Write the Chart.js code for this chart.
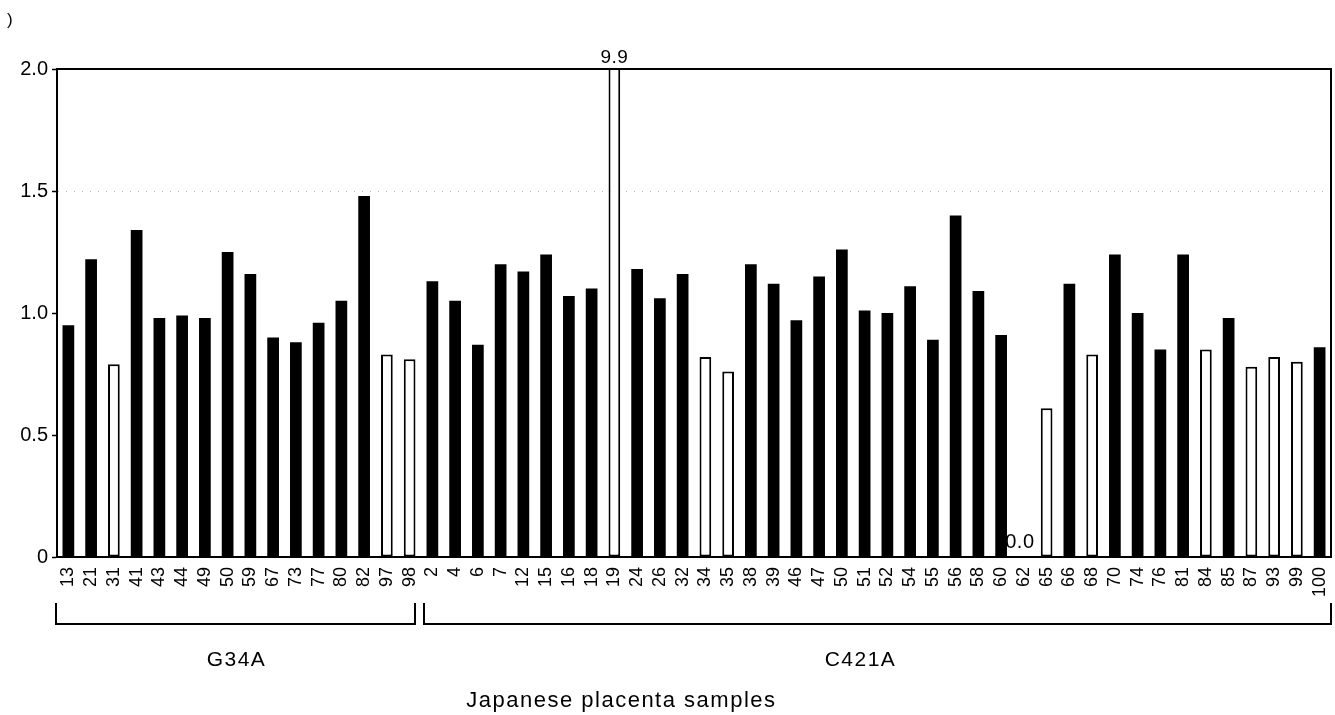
<!DOCTYPE html>
<html>
<head>
<meta charset="utf-8">
<script src="https://cdn.jsdelivr.net/npm/chart.js@4.4.1/dist/chart.umd.min.js"></script>
<style>
html,body{margin:0;padding:0;background:#fff}
canvas{display:block}
</style>
</head>
<body>
<canvas id="c" width="1335" height="715"></canvas>
<script>
// ---- data ----
const g34aSamples = ['13','21','31','41','43','44','49','50','59','67','73','77','80','82','97','98'];
const g34aValues  = [0.95,1.22,0.79,1.34,0.98,0.99,0.98,1.25,1.16,0.90,0.88,0.96,1.05,1.48,0.83,0.81];
const g34aOpen    = [0,0,1,0,0,0,0,0,0,0,0,0,0,0,1,1];

const c421aSamples = ['2','4','6','7','12','15','16','18','19','24','26','32','34','35','38','39','46','47','50','51',
                      '52','54','55','56','58','60','62','65','66','68','70','74','76','81','84','85','87','93','99','100'];
const c421aValues  = [1.13,1.05,0.87,1.20,1.17,1.24,1.07,1.10,9.9,1.18,1.06,1.16,0.82,0.76,1.20,1.12,0.97,1.15,1.26,1.01,
                      1.00,1.11,0.89,1.40,1.09,0.91,0.0,0.61,1.12,0.83,1.24,1.00,0.85,1.24,0.85,0.98,0.78,0.82,0.80,0.86];
const c421aOpen    = [0,0,0,0,0,0,0,0,1,0,0,0,1,1,0,0,0,0,0,0,
                      0,0,0,0,0,0,0,1,0,1,0,0,0,0,1,0,1,1,1,0];

const groupNames = ['G34A','C421A'];
const xAxisTitle = 'Japanese placenta samples';
const yTickLabels = ['0','0.5','1.0','1.5','2.0'];
const yMin = 0, yMax = 2.0, yStep = 0.5;

// ---- derived ----
const labels = g34aSamples.concat(c421aSamples);
const values = g34aValues.concat(c421aValues);
const openFlags = g34aOpen.concat(c421aOpen);

Chart.defaults.font.family = "'Liberation Sans', Arial, sans-serif";
Chart.defaults.color = '#000';

const FONT = "'Liberation Sans', Arial, sans-serif";

const decor = {
  id: 'decor',
  beforeDraw(chart) {
    const ctx = chart.ctx;
    ctx.save();
    ctx.fillStyle = '#fff';
    ctx.fillRect(0, 0, chart.width, chart.height);
    ctx.restore();
  },
  afterDatasetsDraw(chart) {
    const {ctx, chartArea: a} = chart;
    ctx.save();
    ctx.strokeStyle = '#000';
    ctx.lineWidth = 2;
    ctx.strokeRect(a.left, a.top, a.right - a.left, a.bottom - a.top);
    ctx.restore();
  },
  afterDraw(chart) {
    const {ctx, chartArea: a, scales: {x}} = chart;
    const meta = chart.getDatasetMeta(0);
    const step = x.getPixelForValue(1) - x.getPixelForValue(0);
    const split = x.getPixelForValue(g34aSamples.length) - step / 2;

    ctx.save();
    ctx.fillStyle = '#000';
    ctx.strokeStyle = '#000';

    // value labels for clipped / zero bars
    values.forEach((v, i) => {
      const el = meta.data[i];
      ctx.textAlign = 'center';
      ctx.textBaseline = 'alphabetic';
      if (v > yMax) {
        ctx.font = "19px " + FONT;
        try { ctx.letterSpacing = '0.5px'; } catch (e) {}
        ctx.fillText(v.toFixed(1), el.x, a.top - 6);
      } else if (v === 0) {
        ctx.font = "20px " + FONT;
        try { ctx.letterSpacing = '0.5px'; } catch (e) {}
        ctx.fillText(v.toFixed(1), el.x - 4, a.bottom - 9);
      }
    });

    // group brackets
    const yTop = a.bottom + 46, yBot = a.bottom + 67;
    const brackets = [[a.left - 1, split - 6], [split + 3, a.right]];
    ctx.lineWidth = 2;
    brackets.forEach(([x1, x2]) => {
      ctx.beginPath();
      ctx.moveTo(x1, yTop);
      ctx.lineTo(x1, yBot);
      ctx.lineTo(x2, yBot);
      ctx.lineTo(x2, yTop);
      ctx.stroke();
    });

    // group labels
    ctx.font = "21px " + FONT;
    ctx.textAlign = 'center';
    ctx.textBaseline = 'alphabetic';
    try { ctx.letterSpacing = '1.5px'; } catch (e) {}
    ctx.fillText(groupNames[0], (brackets[0][0] + brackets[0][1]) / 2 + 1, a.bottom + 109);
    ctx.fillText(groupNames[1], (brackets[1][0] + brackets[1][1]) / 2 - 17, a.bottom + 109);

    // axis title
    ctx.font = "22px " + FONT;
    try { ctx.letterSpacing = '1.5px'; } catch (e) {}
    ctx.fillText(xAxisTitle, a.left + (a.right - a.left) * 0.443, a.bottom + 150);

    // cropped panel letter remnant
    try { ctx.letterSpacing = '0px'; } catch (e) {}
    ctx.font = "17px " + FONT;
    ctx.textAlign = 'left';
    ctx.fillText(')', 7, 25);
    ctx.restore();
  }
};

new Chart(document.getElementById('c'), {
  type: 'bar',
  data: {
    labels: labels,
    datasets: [{
      data: values,
      backgroundColor: openFlags.map(f => f ? '#fff' : '#000'),
      borderColor: '#000',
      borderWidth: openFlags.map(f => f ? 2 : 0),
      borderSkipped: false,
      barPercentage: 0.515,
      categoryPercentage: 1.0
    }]
  },
  options: {
    responsive: false,
    animation: false,
    devicePixelRatio: 1,
    layout: { padding: { top: 69, right: 4, left: 0, bottom: 0 } },
    plugins: { legend: { display: false }, tooltip: { enabled: false }, title: { display: false } },
    scales: {
      x: {
        type: 'category',
        offset: true,
        grid: { display: false, drawTicks: false },
        border: { display: true, color: '#000', width: 2 },
        ticks: {
          autoSkip: false,
          maxRotation: 90,
          minRotation: 90,
          padding: 10,
          color: '#000',
          font: { size: 18 }
        },
        afterFit(s) { s.height = 158; s.paddingLeft = 0; s.paddingRight = 0; }
      },
      y: {
        min: yMin,
        max: yMax,
        grid: {
          display: true,
          drawOnChartArea: true,
          drawTicks: true,
          tickLength: 5,
          tickWidth: 1.5,
          tickColor: '#000',
          lineWidth: 1,
          color: (c) => (c.tick && c.tick.value === 1.5) ? 'rgba(120,120,120,0.55)' : 'rgba(0,0,0,0)'
        },
        border: { display: true, color: '#000', width: 2, dash: [1, 7] },
        ticks: {
          stepSize: yStep,
          padding: 4,
          color: '#000',
          font: { size: 20 },
          callback: (v) => yTickLabels[Math.round((v - yMin) / yStep)]
        },
        afterFit(s) { s.width = 57; s.paddingTop = 0; s.paddingBottom = 0; }
      }
    }
  },
  plugins: [decor]
});
</script>
</body>
</html>
